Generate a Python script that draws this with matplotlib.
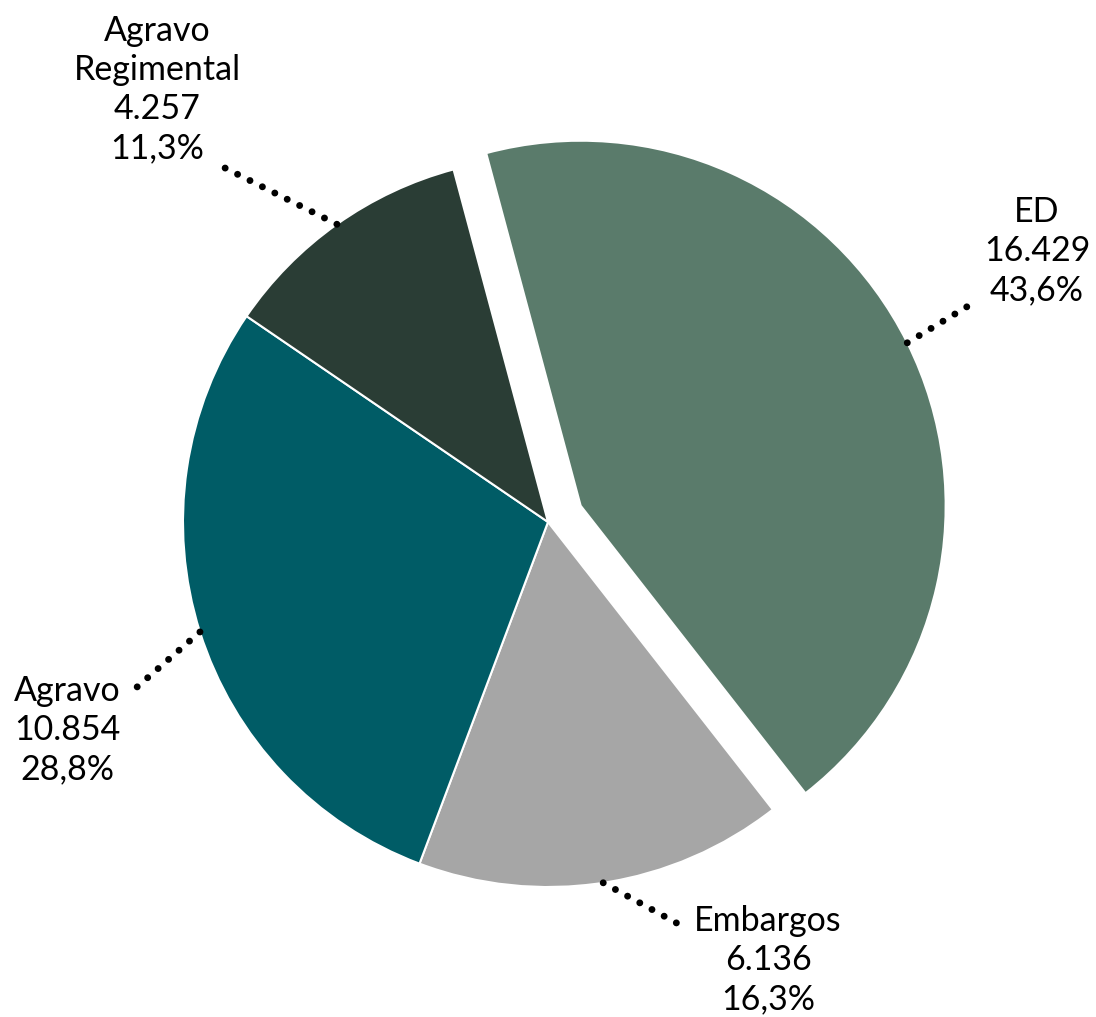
import numpy as np
import matplotlib.pyplot as plt

# dados do gráfico
categorias = ["ED", "Embargos", "Agravo", "Agravo\nRegimental"]
valores = [16429, 6136, 10854, 4257]
cores = ["#5a7b6b", "#a6a6a6", "#005c66", "#2a3d35"]
destaque = [0.1, 0, 0, 0]

# posição dos rótulos (centro do bloco) e fim da linha pontilhada, em unidades do raio
pos_rotulo = [(1.340, 0.742), (0.603, -1.200), (-1.318, -0.570), (-1.071, 1.184)]
fim_linha = [(1.178, 0.608), (0.362, -1.104), (-1.151, -0.474), (-0.901, 0.978)]


def fmt_milhar(v):
    return f"{v:,}".replace(",", ".")


total = sum(valores)

plt.rcParams['font.family'] = ['Lato', 'DejaVu Sans']
fig = plt.figure(figsize=(10.96, 10.17), dpi=100)
ax = fig.add_axes([0, 0, 1, 1])

wedges, _ = ax.pie(valores, colors=cores, explode=destaque, startangle=105.0,
                   counterclock=False, radius=1.0,
                   wedgeprops=dict(edgecolor="white", linewidth=1.5))

for w, cat, v, (tx, ty), (ex, ey) in zip(wedges, categorias, valores, pos_rotulo, fim_linha):
    ang = np.deg2rad((w.theta1 + w.theta2) / 2)
    cx, cy = w.center
    x0 = cx + w.r * np.cos(ang)
    y0 = cy + w.r * np.sin(ang)
    ax.plot([x0, ex], [y0, ey], color="black", lw=5, linestyle=(0, (0.001, 2.0)),
            dash_capstyle="round")
    pct = f"{100 * v / total:.1f}".replace(".", ",") + "%"
    ax.text(tx, ty, f"{cat}\n{fmt_milhar(v)}\n{pct}", ha="center", va="center",
            fontsize=24.5, linespacing=1.28, color="black")

ax.set_xlim(-548 / 365, (1096 - 548) / 365)
ax.set_ylim(-(1017 - 522) / 365, 522 / 365)
ax.set_aspect("equal")
ax.axis("off")

fig.savefig("out.png", dpi=100)
